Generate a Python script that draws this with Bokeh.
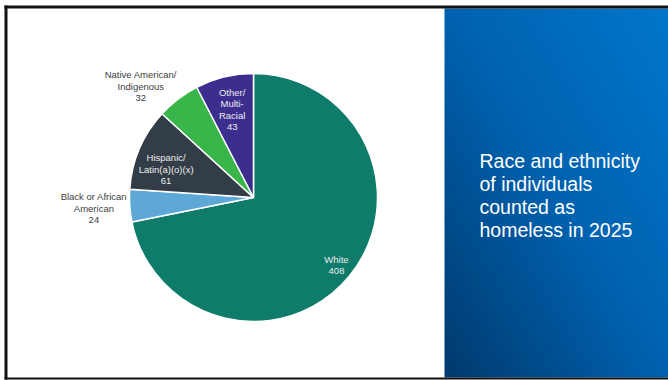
import numpy as np
from bokeh.plotting import figure
from bokeh.models import ColumnDataSource, Range1d
from bokeh.core.properties import value
from bokeh.embed import file_html
from bokeh.resources import INLINE

# ---------------- data ----------------
categories = ["White", "Black or African American", "Hispanic/Latin(a)(o)(x)",
              "Native American/Indigenous", "Other/Multi-Racial"]
counts = [408, 24, 61, 32, 43]
name_lines = [["White"],
              ["Black or African", "American"],
              ["Hispanic/", "Latin(a)(o)(x)"],
              ["Native American/", "Indigenous"],
              ["Other/", "Multi-", "Racial"]]
colors = ["#0E7B6B", "#5DA8D6", "#333D47", "#3AB54A", "#3C2E8E"]
title_lines = ["Race and ethnicity", "of individuals", "counted as", "homeless in 2025"]

# ---------------- layout ----------------
W, H = 668, 380
CX, CY, R = 253, H - 197, 124
# label radius (fraction of R), inside flag, nudge (px right, px down)
label_r = [0.865, 1.29, 0.74, 1.27, 0.73]
label_inside = [True, False, True, False, True]
label_nudge = [(0, 0), (0, 0), (-3, 8), (-17, 14), (0, 0)]
LINE_H = 11.5
FONT = value("Liberation Sans")

p = figure(width=W, height=H, output_backend="svg", toolbar_location=None,
           x_range=Range1d(0, W), y_range=Range1d(0, H), min_border=0,
           x_axis_location=None, y_axis_location=None)
p.outline_line_color = None
p.xgrid.visible = False
p.ygrid.visible = False
p.background_fill_color = "white"
p.border_fill_color = "white"

# ---------------- blue gradient panel ----------------
GW, GH = 112, 184
xf = np.linspace(0, 1, GW)[None, :]
yf = np.linspace(0, 1, GH)[:, None]   # row 0 = bottom
s = (xf + yf) / 2.0
dark = np.array([0x00, 0x3A, 0x6E], float)
mid = np.array([0x00, 0x62, 0xB0], float)
light = np.array([0x00, 0x76, 0xCA], float)
s1 = np.clip(s / 0.5, 0, 1)[..., None]
s2 = np.clip((s - 0.5) / 0.5, 0, 1)[..., None]
rgb = np.where((s < 0.5)[..., None], dark + (mid - dark) * s1, mid + (light - mid) * s2)
img = np.empty((GH, GW), dtype=np.uint32)
view = img.view(dtype=np.uint8).reshape((GH, GW, 4))
view[..., :3] = rgb.astype(np.uint8)
view[..., 3] = 255
p.image_rgba(image=[img], x=444, y=H - 377, dw=W - 444, dh=377 - 8)

# ---------------- frame ----------------
p.quad(left=[4, 4, 4], right=[W, 7, W], top=[H - 5, H - 5, H - 377],
       bottom=[H - 8, H - 379, H - 379], fill_color="#111111", line_color=None)

# ---------------- pie ----------------
total = float(sum(counts))
fr = np.array(counts) / total
cum = np.concatenate([[0.0], np.cumsum(fr)])
start = np.pi / 2 - 2 * np.pi * cum[:-1]
end = np.pi / 2 - 2 * np.pi * cum[1:]
src = ColumnDataSource(dict(cat=categories, count=counts, start=start, end=end, color=colors))
p.wedge(x=CX, y=CY, radius=R, start_angle="start", end_angle="end", direction="clock",
        fill_color="color", line_color="white", line_width=1.5, source=src)

# ---------------- labels ----------------
tx, ty, tt, tc = [], [], [], []
for i, (names, c) in enumerate(zip(name_lines, counts)):
    mida = (start[i] + end[i]) / 2
    r = label_r[i] * R
    ax = CX + r * np.cos(mida) + label_nudge[i][0]
    ay = CY + r * np.sin(mida) - label_nudge[i][1]
    lines = names + [str(c)]
    n = len(lines)
    for j, ln in enumerate(lines):
        tx.append(ax)
        ty.append(ay - (j - (n - 1) / 2) * LINE_H)
        tt.append(ln)
        tc.append("#EDEDED" if label_inside[i] else "#404040")
p.text(x=tx, y=ty, text=tt, text_color=tc, text_font=FONT, text_font_size="9.5px",
       text_align="center", text_baseline="middle")

# ---------------- title in panel ----------------
base0 = 160
p.text(x=[479] * len(title_lines),
       y=[H - (base0 + k * 23.3) for k in range(len(title_lines))],
       text=title_lines, text_color="white", text_font=FONT, text_font_size="19.5px",
       text_align="left", text_baseline="alphabetic")

open("out.html", "w").write(file_html(p, INLINE))
